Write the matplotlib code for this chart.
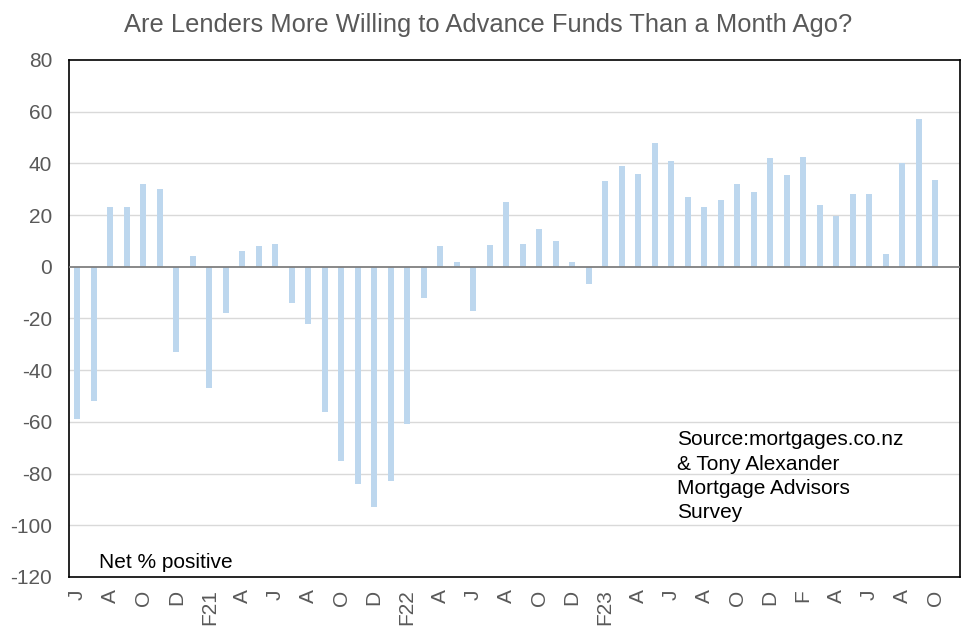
import numpy as np
import matplotlib
matplotlib.use("Agg")
import matplotlib.pyplot as plt

plt.rcParams['font.family'] = ['Liberation Sans', 'DejaVu Sans']

# monthly survey, June 2020 to October 2024 (Nov 2024 slot left empty)
net_positive = [
    -59, -52, 23, 23, 32, 30, -33, 4, -47, -18,
    6, 8, 9, -14, -22, -56, -75, -84, -93, -83,
    -61, -12, 8, 2, -17, 8.5, 25, 9, 14.5, 10,
    2, -6.5, 33, 39, 36, 48, 41, 27, 23, 26,
    32, 29, 42, 35.5, 42.5, 24, 19.5, 28, 28, 5,
    40, 57, 33.5,
]
n_slots = 54
tick_labels = ['J', 'A', 'O', 'D', 'F21', 'A', 'J', 'A', 'O', 'D', 'F22', 'A', 'J',
               'A', 'O', 'D', 'F23', 'A', 'J', 'A', 'O', 'D', 'F', 'A', 'J', 'A', 'O']
y_ticks = list(range(-120, 81, 20))

title = "Are Lenders More Willing to Advance Funds Than a Month Ago?"
source_note = "Source:mortgages.co.nz\n& Tony Alexander\nMortgage Advisors\nSurvey"

fig = plt.figure(figsize=(9.76, 6.36), dpi=100)
ax = fig.add_axes([0.0707, 0.0928, 0.9129, 0.8129])

x = np.arange(len(net_positive))
ax.bar(x, net_positive, width=0.36, color='#BDD7EE', zorder=2)

ax.set_xlim(-0.5, n_slots - 0.5)
ax.set_ylim(-120, 80)
ax.set_yticks(y_ticks)
ax.set_yticklabels([str(v) for v in y_ticks])
ax.set_xticks(np.arange(0, 2 * len(tick_labels), 2))
ax.set_xticklabels(tick_labels, rotation=90)
ax.tick_params(axis='both', length=0, colors='#595959', labelsize=15)
ax.tick_params(axis='x', pad=9)
ax.tick_params(axis='y', pad=12)

for v in y_ticks:
    if v not in (-120, 0, 80):
        ax.axhline(v, color='#D9D9D9', linewidth=1, zorder=1)
ax.axhline(0, color='#7F7F7F', linewidth=1.3, zorder=3)

for s in ax.spines.values():
    s.set_color('#000000')
    s.set_linewidth(1.2)

fig.text(0.5, 0.961, title, ha='center', va='center', fontsize=18.4, color='#595959')
ax.text(0.034, 0.018, "Net % positive", transform=ax.transAxes, fontsize=15,
        color='black', ha='left', va='baseline')
ax.text(0.682, 0.284, source_note, transform=ax.transAxes, fontsize=15,
        color='black', ha='left', va='top', linespacing=1.36)

fig.savefig('out.png', dpi=100)
